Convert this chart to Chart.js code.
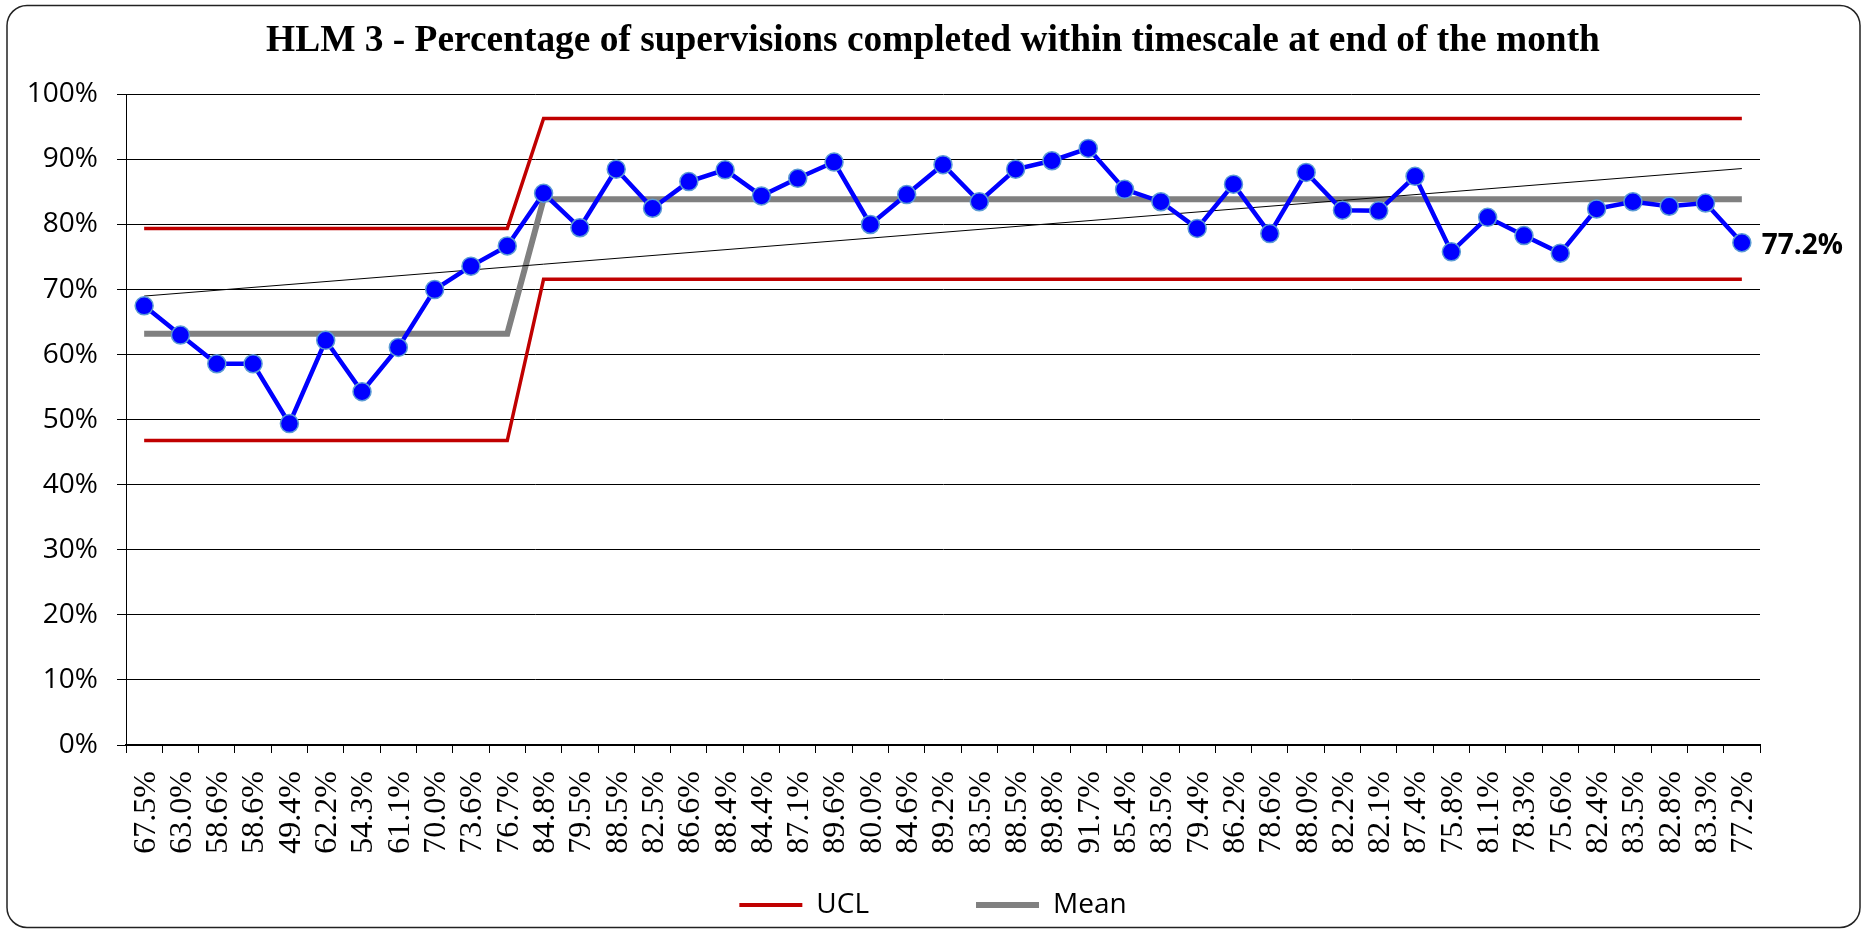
<!DOCTYPE html>
<html><head><meta charset="utf-8">
<script src="https://cdn.jsdelivr.net/npm/chart.js@4.4.0/dist/chart.umd.min.js"></script>
<style>html,body{margin:0;padding:0;background:#fff;overflow:hidden}</style>
</head><body>
<canvas id="c" width="1866" height="931"></canvas>
<script>
const titleText = "HLM 3 - Percentage of supervisions completed within timescale at end of the month";
const tickLabels = ["67.5%","63.0%","58.6%","58.6%","49.4%","62.2%","54.3%","61.1%","70.0%","73.6%","76.7%","84.8%","79.5%","88.5%","82.5%","86.6%","88.4%","84.4%","87.1%","89.6%","80.0%","84.6%","89.2%","83.5%","88.5%","89.8%","91.7%","85.4%","83.5%","79.4%","86.2%","78.6%","88.0%","82.2%","82.1%","87.4%","75.8%","81.1%","78.3%","75.6%","82.4%","83.5%","82.8%","83.3%","77.2%"];
const values = [67.5,63.0,58.6,58.6,49.4,62.2,54.3,61.1,70.0,73.6,76.7,84.8,79.5,88.5,82.5,86.6,88.4,84.4,87.1,89.6,80.0,84.6,89.2,83.5,88.5,89.8,91.7,85.4,83.5,79.4,86.2,78.6,88.0,82.2,82.1,87.4,75.8,81.1,78.3,75.6,82.4,83.5,82.8,83.3,77.2];
const ucl = [79.4,79.4,79.4,79.4,79.4,79.4,79.4,79.4,79.4,79.4,79.4,96.3,96.3,96.3,96.3,96.3,96.3,96.3,96.3,96.3,96.3,96.3,96.3,96.3,96.3,96.3,96.3,96.3,96.3,96.3,96.3,96.3,96.3,96.3,96.3,96.3,96.3,96.3,96.3,96.3,96.3,96.3,96.3,96.3,96.3];
const lcl = [46.8,46.8,46.8,46.8,46.8,46.8,46.8,46.8,46.8,46.8,46.8,71.6,71.6,71.6,71.6,71.6,71.6,71.6,71.6,71.6,71.6,71.6,71.6,71.6,71.6,71.6,71.6,71.6,71.6,71.6,71.6,71.6,71.6,71.6,71.6,71.6,71.6,71.6,71.6,71.6,71.6,71.6,71.6,71.6,71.6];
const mean = [63.2,63.2,63.2,63.2,63.2,63.2,63.2,63.2,63.2,63.2,63.2,83.9,83.9,83.9,83.9,83.9,83.9,83.9,83.9,83.9,83.9,83.9,83.9,83.9,83.9,83.9,83.9,83.9,83.9,83.9,83.9,83.9,83.9,83.9,83.9,83.9,83.9,83.9,83.9,83.9,83.9,83.9,83.9,83.9,83.9];
const trendStart = 69.0;
const trendEnd = 88.6;
const yTicks = [0,10,20,30,40,50,60,70,80,90,100];
const legendNames = ['UCL', 'Mean'];

const SERIF = '"Liberation Serif", "Times New Roman", Times, serif';
const SANS = '"Open Sans", sans-serif';

const framePlugin = {
  id: 'frame',
  beforeDraw(chart) {
    const ctx = chart.ctx;
    ctx.save();
    ctx.fillStyle = '#fff';
    ctx.fillRect(0, 0, chart.width, chart.height);
    ctx.strokeStyle = '#222';
    ctx.lineWidth = 1.5;
    ctx.beginPath();
    ctx.roundRect(7, 5.5, 1853, 922, 20);
    ctx.stroke();
    ctx.restore();
  }
};
// Category labels of the x scale, drawn rotated at the scale's own tick positions
const xLabelPlugin = {
  id: 'xLabels',
  afterDraw(chart) {
    const xs = chart.scales.x;
    const ctx = chart.ctx;
    ctx.save();
    ctx.font = '32px ' + SERIF;
    ctx.fillStyle = '#000';
    ctx.textAlign = 'right';
    ctx.textBaseline = 'middle';
    xs.ticks.forEach((t, i) => {
      const x = xs.getPixelForTick(i) + 2;
      const y = xs.top + 26;
      ctx.save();
      ctx.translate(x, y);
      ctx.rotate(-Math.PI / 2);
      ctx.fillText(xs.getLabelForValue(t.value), 0, 0);
      ctx.restore();
    });
    ctx.restore();
  }
};
const lastLabelPlugin = {
  id: 'lastLabel',
  afterDatasetsDraw(chart) {
    const meta = chart.getDatasetMeta(0);
    const pt = meta.data[meta.data.length - 1];
    const ctx = chart.ctx;
    ctx.save();
    ctx.font = 'bold 28px "Open Sans"';
    ctx.fillStyle = '#000';
    ctx.textAlign = 'left';
    ctx.textBaseline = 'middle';
    ctx.fillText(tickLabels[tickLabels.length - 1], pt.x + 20, pt.y + 3);
    ctx.restore();
  }
};

new Chart(document.getElementById('c'), {
  type: 'line',
  data: {
    labels: tickLabels,
    datasets: [
      { label: 'Data', data: values, borderColor: '#0000FF', borderWidth: 4.5,
        pointRadius: 9, pointHoverRadius: 9, pointBackgroundColor: '#0000FF',
        pointBorderColor: '#5b9bd5', pointBorderWidth: 1.5, tension: 0, order: 0 },
      { label: 'UCL', data: ucl, borderColor: '#C00000', backgroundColor: '#C00000', borderWidth: 3.5,
        pointRadius: 0, pointStyle: 'line', tension: 0, order: 3 },
      { label: 'LCL', data: lcl, borderColor: '#C00000', backgroundColor: '#C00000', borderWidth: 3.5,
        pointRadius: 0, pointStyle: 'line', tension: 0, order: 3 },
      { label: 'Mean', data: mean, borderColor: '#808080', backgroundColor: '#808080', borderWidth: 6,
        pointRadius: 0, pointStyle: 'line', tension: 0, order: 2 },
      { label: 'Trend', data: [{x: tickLabels[0], y: trendStart}, {x: tickLabels[tickLabels.length - 1], y: trendEnd}],
        borderColor: '#000', borderWidth: 1, pointRadius: 0, tension: 0, order: 1 }
    ]
  },
  options: {
    responsive: false,
    animation: false,
    events: [],
    layout: { padding: { top: 0, left: 0, right: 0, bottom: 2 } },
    plugins: {
      title: { display: true, text: titleText, color: '#000',
        font: { family: SERIF, size: 37.4, weight: 'bold' },
        padding: { top: 19, bottom: 30.5 } },
      legend: { display: true, position: 'bottom',
        labels: { usePointStyle: true, pointStyleWidth: 63, padding: 15, color: '#000',
          font: { family: SANS, size: 28 },
          generateLabels: (chart) => {
            const all = Chart.defaults.plugins.legend.labels.generateLabels(chart);
            const items = legendNames.map(n => all.find(it => it.text === n));
            items[0].lineWidth = 4;
            const spacer = { text: '', fillStyle: 'rgba(0,0,0,0)', strokeStyle: 'rgba(0,0,0,0)',
              lineWidth: 0, pointStyle: 'line', hidden: false, datasetIndex: -1 };
            return [items[0], spacer, items[1]];
          } } },
      tooltip: { enabled: false }
    },
    scales: {
      x: {
        type: 'category', offset: true,
        grid: { display: true, drawOnChartArea: false, drawTicks: true, tickLength: 8, offset: true, color: '#000' },
        border: { display: true, color: '#000', width: 2 },
        ticks: { display: false, autoSkip: false },
        afterFit: (s) => { s.height = 131; }
      },
      y: {
        min: 0, max: 100,
        afterBuildTicks: (s) => { s.ticks = yTicks.map(v => ({ value: v })); },
        grid: { color: '#000', lineWidth: 1, tickLength: 9 },
        border: { display: true, color: '#000', width: 1 },
        ticks: { padding: 19, color: '#000', callback: (v) => v + '%',
          font: { family: SANS, size: 28 } },
        afterFit: (s) => { s.width = 126; }
      },
      y2: {
        position: 'right', display: true,
        grid: { display: false, drawTicks: false }, border: { display: false },
        ticks: { display: false },
        afterFit: (s) => { s.width = 106; }
      }
    }
  },
  plugins: [framePlugin, xLabelPlugin, lastLabelPlugin]
});
</script>
</body></html>
